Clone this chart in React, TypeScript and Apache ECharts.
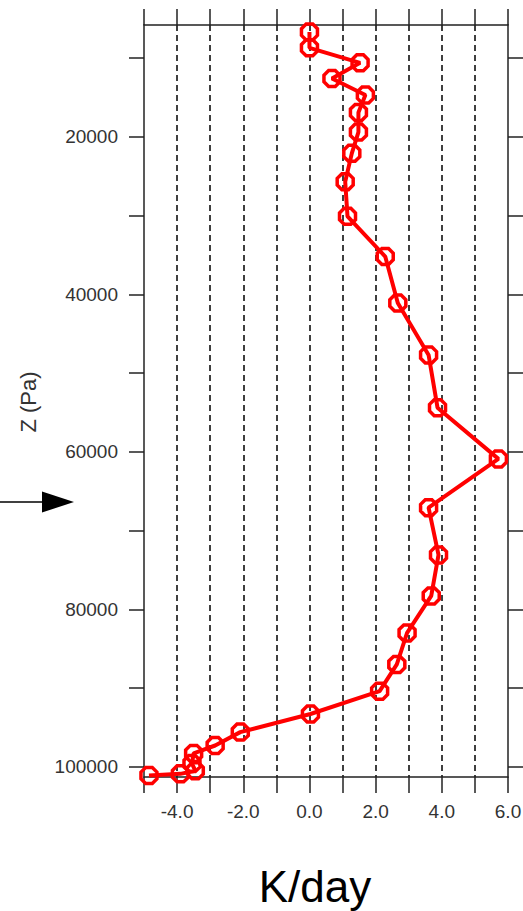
import React, { useEffect, useRef } from "react";
import * as echarts from "echarts";

// Heating rate profile (K/day) vs pressure level (Pa)
const pressure = [
  6700, 8700, 10600, 12600, 14700, 16900, 19400, 22100, 25700, 30100,
  35200, 41100, 47700, 54400, 60900, 67100, 73100, 78300, 83000, 87000,
  90400, 93300, 95600, 97300, 98300, 99600, 100500, 100900, 101100,
];
const heating = [
  0.0, 0.0, 1.53, 0.68, 1.69, 1.48, 1.48, 1.28, 1.08, 1.15,
  2.29, 2.67, 3.6, 3.87, 5.71, 3.6, 3.9, 3.68, 2.95, 2.64,
  2.12, 0.03, -2.09, -2.85, -3.5, -3.55, -3.45, -3.9, -4.85,
];
const yTickValues = [10000, 20000, 30000, 40000, 50000, 60000, 70000, 80000, 90000, 100000];
const yLabelValues = [20000, 40000, 60000, 80000, 100000];
const xLabelValues = [-4, -2, 0, 2, 4, 6];
const xTitle = "K/day";
const yTitle = "Z (Pa)";

const octagon =
  "path://M2.93,0 L7.07,0 L10,2.93 L10,7.07 L7.07,10 L2.93,10 L0,7.07 L0,2.93 Z";

export default function App() {
  const ref = useRef<HTMLDivElement>(null);

  useEffect(() => {
    if (!ref.current) return;
    const chart = echarts.init(ref.current, null, { renderer: "svg" });
    const axisColor = "#222";
    const labelFont = {
      fontFamily: "Liberation Sans",
      fontSize: 19,
      color: "#333",
    };
    const xBase = {
      type: "value" as const,
      min: -5,
      max: 6,
      interval: 1,
      axisLine: { show: true, onZero: false, lineStyle: { color: axisColor, width: 1.5 } },
      axisTick: { show: true, inside: false, length: 16, lineStyle: { color: axisColor, width: 1.5 } },
    };
    const yBase = {
      type: "value" as const,
      inverse: true,
      min: 5800,
      max: 101300,
      axisLine: { show: true, onZero: false, lineStyle: { color: axisColor, width: 1.5 } },
      axisTick: {
        show: true,
        inside: false,
        length: 15,
        customValues: yTickValues,
        lineStyle: { color: axisColor, width: 1.5 },
      },
      splitLine: { show: false },
    };
    chart.setOption({
      animation: false,
      backgroundColor: "#ffffff",
      grid: {
        left: 144,
        right: 15,
        top: 25,
        bottom: 134,
        containLabel: false,
        outerBoundsMode: "none",
      },
      xAxis: [
        {
          ...xBase,
          position: "bottom",
          axisLabel: {
            show: true,
            margin: 25,
            ...labelFont,
            customValues: xLabelValues,
            formatter: (v: number) => v.toFixed(1),
          },
          splitLine: {
            show: true,
            showMinLine: false,
            showMaxLine: false,
            lineStyle: { color: "#000", width: 1.5, type: [6, 4] },
          },
        },
        {
          ...xBase,
          position: "top",
          axisLabel: { show: false },
          splitLine: { show: false },
        },
      ],
      yAxis: [
        {
          ...yBase,
          position: "left",
          axisLabel: {
            show: true,
            margin: 26,
            ...labelFont,
            customValues: yLabelValues,
            formatter: (v: number) => String(v),
          },
        },
        {
          ...yBase,
          position: "right",
          axisLabel: { show: false },
        },
      ],
      graphic: [
        {
          type: "text",
          x: 28,
          y: 402,
          rotation: Math.PI / 2,
          style: {
            text: yTitle,
            fontFamily: "Liberation Sans",
            fontSize: 22,
            fill: "#333",
            align: "center",
            verticalAlign: "middle",
          },
        },
        {
          type: "text",
          x: 315,
          y: 886,
          style: {
            text: xTitle,
            fontFamily: "Liberation Sans",
            fontSize: 44,
            fill: "#000",
            align: "center",
            verticalAlign: "middle",
          },
        },
        {
          type: "line",
          shape: { x1: 0, y1: 502, x2: 44, y2: 502 },
          style: { stroke: "#000", lineWidth: 1.4 },
        },
        {
          type: "polygon",
          shape: { points: [[42, 491.5], [74, 502], [42, 512.5]] },
          style: { fill: "#000" },
        },
      ],
      series: [
        {
          type: "line",
          xAxisIndex: 0,
          yAxisIndex: 0,
          data: heating.map((h, i) => [h, pressure[i]]),
          symbol: octagon,
          symbolSize: 16,
          showAllSymbol: true,
          clip: true,
          lineStyle: { color: "#ff0000", width: 4 },
          itemStyle: {
            color: "rgba(255,255,255,0)",
            borderColor: "#ff0000",
            borderWidth: 3.5,
          },
          z: 5,
        },
      ],
    });
    return () => chart.dispose();
  }, []);

  return (
    <div
      ref={ref}
      style={{ position: "absolute", left: 0, top: 0, width: 523, height: 911 }}
    />
  );
}
